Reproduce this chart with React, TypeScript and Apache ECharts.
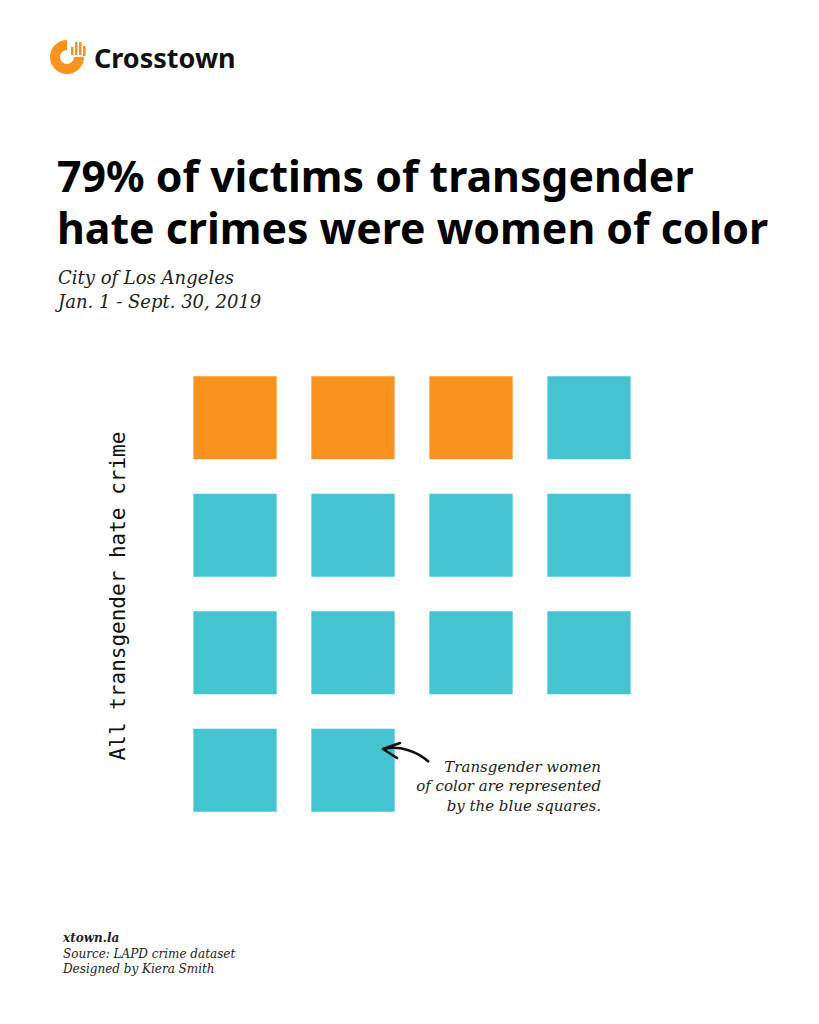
import React, { useEffect, useRef } from "react";
import * as echarts from "echarts";

const titleLines = ["79% of victims of transgender", "hate crimes were women of color"];
const subtitleLines = ["City of Los Angeles", "Jan. 1 - Sept. 30, 2019"];
const groupLabels = ["Other victims", "Transgender women of color"];
const groupCounts = [3, 11];
const groupColors = ["#F7931E", "#46C3D0"];
const columnsPerRow = 4;
const axisLabel = "All transgender hate crime";
const noteLines = ["Transgender women", "of color are represented", "by the blue squares."];
const footerLines = ["xtown.la", "Source: LAPD crime dataset", "Designed by Kiera Smith"];

export default function App() {
  const ref = useRef<HTMLDivElement>(null);
  useEffect(() => {
    if (!ref.current) return;
    const chart = echarts.init(ref.current, null, { renderer: "svg" });
    const cells: any[] = [];
    let idx = 0;
    groupCounts.forEach((n, g) => {
      for (let i = 0; i < n; i++) {
        cells.push({ value: [idx % columnsPerRow, Math.floor(idx / columnsPerRow), g], name: groupLabels[g] });
        idx++;
      }
    });
    const rows = Math.ceil(idx / columnsPerRow);
    const serif = "'DejaVu Serif', serif";
    chart.setOption({
      animation: false,
      backgroundColor: "#ffffff",
      grid: { left: 176, top: 359, width: 472, height: 470 },
      xAxis: { type: "value", min: -0.5, max: columnsPerRow - 0.5, show: false },
      yAxis: { type: "value", min: -0.5, max: rows - 0.5, inverse: true, show: false },
      series: [
        {
          type: "custom",
          z: 2,
          data: cells,
          renderItem: (params: any, api: any) => {
            const c = api.coord([api.value(0), api.value(1)]);
            const s = api.size([1, 1]);
            const w = s[0] * 0.706;
            const h = s[1] * 0.708;
            return {
              type: "rect",
              shape: { x: c[0] - w / 2, y: c[1] - h / 2, width: w, height: h },
              style: { fill: groupColors[api.value(2)] },
            };
          },
        },
      ],
      graphic: [
        {
          type: "sector",
          shape: { cx: 67, cy: 57, r: 17, r0: 7, startAngle: 0, endAngle: Math.PI * 1.5, clockwise: true },
          style: { fill: "#F7931E" },
        },
        { type: "rect", shape: { x: 71, y: 47, width: 2.5, height: 8 }, style: { fill: "#F7931E" } },
        { type: "rect", shape: { x: 75, y: 42, width: 2.5, height: 13 }, style: { fill: "#F7931E" } },
        { type: "rect", shape: { x: 79, y: 42, width: 2.5, height: 13 }, style: { fill: "#F7931E" } },
        { type: "rect", shape: { x: 83, y: 46, width: 2.5, height: 10 }, style: { fill: "#F7931E" } },
        {
          type: "text",
          x: 94,
          y: 57,
          style: { text: "Crosstown", font: "bold 27px 'Noto Sans', sans-serif", fill: "#111111", verticalAlign: "middle" },
        },
        {
          type: "text",
          x: 57,
          y: 149,
          style: {
            text: titleLines.join("\n"),
            font: "bold 42.8px 'Noto Sans', sans-serif",
            lineHeight: 52,
            fill: "#000000",
            verticalAlign: "top",
          },
        },
        {
          type: "text",
          x: 58,
          y: 265,
          style: {
            text: subtitleLines.join("\n"),
            font: `italic 18px ${serif}`,
            lineHeight: 24,
            fill: "#222222",
            verticalAlign: "top",
          },
        },
        {
          type: "text",
          x: 118,
          y: 596,
          rotation: Math.PI / 2,
          style: {
            text: axisLabel,
            font: "21px 'DejaVu Sans Mono', monospace",
            fill: "#111111",
            align: "center",
            verticalAlign: "middle",
          },
        },
        {
          type: "bezierCurve",
          z: 100,
          shape: { x1: 384, y1: 749, x2: 429, y2: 762, cpx1: 400, cpy1: 745, cpx2: 418, cpy2: 752 },
          style: { stroke: "#111111", lineWidth: 2.5, fill: null },
        },
        {
          type: "polyline",
          z: 100,
          shape: { points: [[400, 743], [383, 749], [397, 758]] },
          style: { stroke: "#111111", lineWidth: 2.5, fill: null, lineCap: "round", lineJoin: "round" },
        },
        {
          type: "text",
          x: 601,
          y: 757,
          style: {
            text: noteLines.join("\n"),
            font: `italic 15px ${serif}`,
            lineHeight: 19.5,
            fill: "#222222",
            align: "right",
            verticalAlign: "top",
          },
        },
        {
          type: "text",
          x: 63,
          y: 932,
          style: {
            text: footerLines[0],
            font: `bold italic 12px ${serif}`,
            fill: "#222222",
            verticalAlign: "top",
          },
        },
        {
          type: "text",
          x: 63,
          y: 946,
          style: {
            text: footerLines.slice(1).join("\n"),
            font: `italic 12px ${serif}`,
            lineHeight: 15.5,
            fill: "#222222",
            verticalAlign: "top",
          },
        },
      ],
    });
    return () => chart.dispose();
  }, []);
  return <div ref={ref} style={{ position: "fixed", left: 0, top: 0, width: 819, height: 1024 }} />;
}
